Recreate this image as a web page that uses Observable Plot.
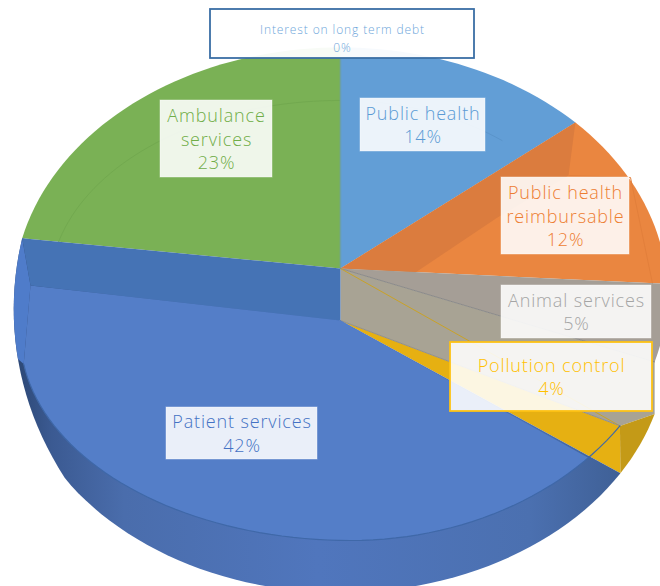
<!DOCTYPE html>
<html>
<head>
<meta charset="utf-8">
<script src="https://cdn.jsdelivr.net/npm/d3@7"></script>
<script src="https://cdn.jsdelivr.net/npm/@observablehq/plot@0.6"></script>
<style>html,body{margin:0;padding:0;background:#fff;overflow:hidden}svg{display:block}
g[font-size="18"] text{letter-spacing:0.85px}
g[font-size="12"] text{letter-spacing:0.88px}
</style>
</head>
<body>
<div id="chart"></div>
<script>
// ---- data ----
const categories = ["Public health","Public health reimbursable","Animal services","Pollution control","Patient services","Ambulance services","Interest on long term debt"];
const shares = [14,12,5,4,42,23,0];
const labelLines = [["Public health"],["Public health","reimbursable"],["Animal services"],["Pollution control"],["Patient services"],["Ambulance","services"],["Interest on long term debt"]];

// ---- layout and styling (not data) ----
const colors = ["#629ed6","#ea8640","#a59e96","#e6b012","#547ec8","#7ab155","#5b9bd5"];
const textColors = ["#5b9bd5","#ed7d31","#a5a5a5","#ffc000","#4472c4","#70ad47","#6ea6da"];
const boxSizes = [[125,53],[128,77],[150,53],[202,69],[151,52],[112,77],[264,49]];
const boxCentres = [[422.5,124.5],[565,215.5],[576,311.5],[551,376.5],[241.5,433],[216,138.5],[342,33.5]];

const K = 0.1035, A = 325, B = 244, APEX = [340,268], DROP = 52;
const rim = (deg, shift = 0) => {
  const t = deg*Math.PI/180, u = Math.sin(t), v = -Math.cos(t), d = 1 - K*v;
  return {x: APEX[0] + A*u/d, y: APEX[1] + B*v/d + shift};
};
const arc = (a, b, shift = 0) => {
  const f = typeof shift === "function" ? shift : () => shift;
  const n = Math.max(2, Math.ceil(Math.abs(b-a)/2));
  return d3.range(n+1).map(i => { const t = a+(b-a)*i/n; return rim(t, f(t)); });
};
const pt = (x,y) => ({x,y});
const apex = pt(...APEX), lowApex = pt(APEX[0], APEX[1]+DROP);
const bevel = (deg) => {
  const t = deg*Math.PI/180;
  return deg <= 180
    ? pt(350+325*Math.sin(t), 280-260*Math.cos(t))
    : pt(350+330*Math.sin(t), 335-205*Math.cos(t));
};
const bevelArc = (a,b) => { const n = Math.ceil(Math.abs(b-a)/2); return d3.range(n+1).map(i => bevel(a+(b-a)*i/n)); };

// slice angles from the shares
const cum = d3.cumsum(shares);
const ends = Array.from(cum, c => c*3.6);
const starts = ends.map((e,i) => i ? ends[i-1] : 0);
const [ph, re, an, po, pa, am] = [0,1,2,3,4,5].map(i => ({a:starts[i], b:ends[i]}));

const poly = (pts, fill, o = {}) => Plot.line(pts, {x:"x", y:"y", fill, stroke:"none", curve:"linear-closed", ...o});
const path = (pts, stroke, o = {}) => Plot.line(pts, {x:"x", y:"y", fill:"none", stroke, strokeWidth:1, curve:"linear", ...o});

const dropLeft = t => DROP * Math.min(1, (am.a - t)/45);
const corner = bevel(124);

const labels = categories.map((c,i) => {
  const [x,y] = boxCentres[i];
  return {c, i, x, y, w:boxSizes[i][0], h:boxSizes[i][1], lines:labelLines[i], pct:shares[i]+"%"};
});

const defs = () => {
  const s = d3.create("svg:defs");
  const g = s.append("linearGradient").attr("id","band").attr("gradientUnits","userSpaceOnUse")
    .attr("x1",15).attr("x2",620).attr("y1",0).attr("y2",0);
  [[0,"#2c4774"],[0.06,"#3b5a92"],[0.18,"#4a6dac"],[0.5,"#5076bd"],[0.85,"#4b70b0"],[1,"#3f6096"]]
    .forEach(([o,c]) => g.append("stop").attr("offset",o).attr("stop-color",c));
  return s.node();
};

const plot = Plot.plot({
  width:660, height:586, margin:0,
  x:{domain:[0,660], range:[0,660], axis:null},
  y:{domain:[0,586], range:[0,586], axis:null},
  color:{type:"identity"},
  style:{background:"#fff"},
  marks:[
    defs,
    // public health
    poly([apex, ...arc(ph.a, ph.b)], colors[0]),
    path(arc(8, 42).map(p => pt(340+(p.x-340)*0.8, 268+(p.y-268)*0.76)), "#5a94cb"),
    // ambulance
    poly([apex, ...arc(am.a, am.b)], colors[5]),
    path(arc(am.a, 360).map(p => pt(340+(p.x-340)*0.89, 268+(p.y-268)*0.76)), "#72a94f"),
    path([apex, rim(0)], "#6b9fa8", {strokeWidth:1.5}),
    // public health reimbursable
    poly([apex, ...arc(re.a, re.b)], colors[1]),
    poly([rim(ph.b), apex, pt(415,272), pt(497,217), pt(568,175)], "#db7c3e"),
    path([pt(568,175), pt(630,177), pt(652,283)], "#e27f3b"),
    // animal services: top face and wall
    poly([apex, ...arc(an.a, an.b)], colors[2]),
    poly([apex, rim(an.b), rim(an.b,DROP), corner, lowApex], "#a8a394"),
    path([apex, rim(an.b)], "#8a8a8a"),
    // pollution control
    poly([lowApex, corner, rim(po.b,DROP)], colors[3]),
    poly([corner, rim(po.b,DROP), ...arc(po.b, po.a, DROP)], "#c49a17"),
    path([apex, corner], "#c9a227"),
    path([lowApex, corner], "#8f8f8f"),
    // patient services: side band, then top face
    poly([lowApex, ...arc(pa.a, pa.b - 3, dropLeft), rim(pa.b)], "url(#band)"),
    poly([rim(pa.b), pt(30,285), bevel(262), ...arc(255, pa.b, dropLeft)], "#4f7cca"),
    poly([lowApex, ...bevelArc(133,262), pt(30,285)], colors[4]),
    poly([rim(pa.b), apex, lowApex, pt(30,285)], "#4573b5"),
    path(bevelArc(124,262), "#3f68a8", {strokeWidth:1.2}),
    // label boxes and texts
    Plot.rect(labels, {
      x1:d=>d.x-d.w/2, x2:d=>d.x+d.w/2, y1:d=>d.y-d.h/2, y2:d=>d.y+d.h/2,
      fill:"#fff", fillOpacity:d => d.i===6 ? 0.95 : 0.88,
      stroke:d => d.i===6 ? "#3a6ea5" : d.i===3 ? "#fdc216" : "#fff",
      strokeOpacity:d => (d.i===6||d.i===3) ? 1 : 0.4,
      strokeWidth:d => (d.i===6||d.i===3) ? 1.8 : 1
    }),
    Plot.text(labels.filter(d=>d.i!==6), {
      x:"x", y:"y", dy:-1, text:d => [...d.lines, d.pct].join("\n"),
      fill:d => textColors[d.i], fontSize:18, lineHeight:1.31, fontFamily:"Open Sans", fontWeight:300, textAnchor:"middle"
    }),
    Plot.text(labels.filter(d=>d.i===6), {
      x:"x", y:"y", dy:3, text:d => [...d.lines, d.pct].join("\n"),
      fill:d => textColors[d.i], fontSize:12, lineHeight:1.5, fontFamily:"Open Sans", fontWeight:300, textAnchor:"middle"
    })
  ]
});
document.getElementById("chart").append(plot);
</script>
</body>
</html>
